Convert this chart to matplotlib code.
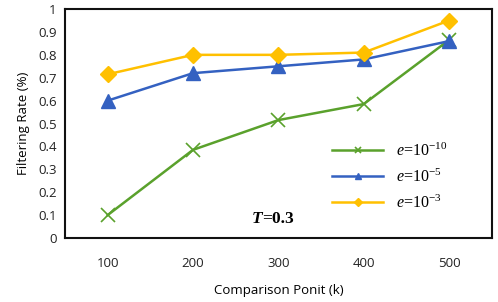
import matplotlib

matplotlib.use("Agg")
import matplotlib.pyplot as plt

# comparison points (k) and filtering rates
points = ["100", "200", "300", "400", "500"]
rate_e10 = [0.10, 0.385, 0.515, 0.585, 0.865]
rate_e5 = [0.60, 0.72, 0.75, 0.78, 0.86]
rate_e3 = [0.715, 0.80, 0.80, 0.81, 0.95]
yticks = [0, 0.1, 0.2, 0.3, 0.4, 0.5, 0.6, 0.7, 0.8, 0.9, 1]

C_GREEN = "#5AA12C"
C_BLUE = "#3461C1"
C_ORANGE = "#FFC000"

plt.rcParams["font.family"] = ["Open Sans", "DejaVu Sans"]
plt.rcParams["mathtext.fontset"] = "custom"
plt.rcParams["mathtext.it"] = "Liberation Serif:italic"
plt.rcParams["mathtext.rm"] = "Liberation Serif"

fig = plt.figure(figsize=(4.98, 3.02), dpi=100)
ax = fig.add_axes([0.1305, 0.212, 0.857, 0.758])

x = list(range(len(points)))
ax.plot(x, rate_e10, color=C_GREEN, lw=1.8, marker="x", ms=10, mew=1.2,
        label=r"$e$=10$^{-10}$", zorder=3)
ax.plot(x, rate_e5, color=C_BLUE, lw=1.8, marker="^", ms=10,
        label=r"$e$=10$^{-5}$", zorder=4)
ax.plot(x, rate_e3, color=C_ORANGE, lw=1.8, marker="D", ms=8,
        label=r"$e$=10$^{-3}$", zorder=5)

ax.set_xlim(-0.5, len(points) - 0.5)
ax.set_ylim(0, 1)
ax.set_xticks(x)
ax.set_xticklabels(points)
ax.set_yticks(yticks)
ax.set_yticklabels([f"{v:g}" for v in yticks])
ax.tick_params(length=0, labelsize=9.5, colors="#222222", pad=6)
ax.tick_params(axis="x", pad=14)
for s in ax.spines.values():
    s.set_linewidth(1.5)
    s.set_color("#111111")

ax.set_xlabel("Comparison Ponit (k)", fontsize=9.5, labelpad=10)
ax.set_ylabel("Filtering Rate (%)", fontsize=9.5, labelpad=6)

ax.legend(loc="lower right", bbox_to_anchor=(0.93, 0.052), frameon=False,
          prop={"family": "Liberation Serif", "size": 11.5},
          handlelength=3.2, labelspacing=0.55, markerscale=0.5)

# "T=0.3" annotation: italic bold T, bold rest
ax.text(0.462, 0.085, "T", transform=ax.transAxes, ha="right", va="center",
        fontsize=12.5, fontweight="bold", fontstyle="italic",
        family="Liberation Serif")
ax.text(0.462, 0.085, "=0.3", transform=ax.transAxes, ha="left", va="center",
        fontsize=12.5, fontweight="bold", family="Liberation Serif")

fig.savefig("out.png", dpi=100)
